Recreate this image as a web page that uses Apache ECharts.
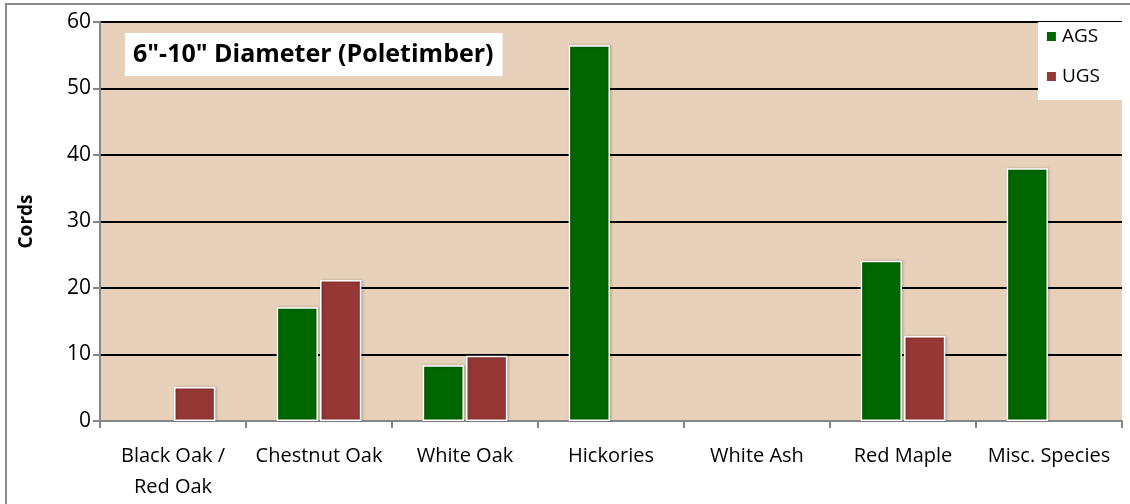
<!DOCTYPE html>
<html>
<head>
<meta charset="utf-8">
<script src="https://cdn.jsdelivr.net/npm/echarts@6/dist/echarts.min.js"></script>
<style>
  html, body { margin: 0; padding: 0; background: #fff; }
  #main { width: 1130px; height: 504px; }
</style>
</head>
<body>
<div id="main"></div>
<script>
  // species along the x axis
  const categories = ['Black Oak /\nRed Oak', 'Chestnut Oak', 'White Oak', 'Hickories', 'White Ash', 'Red Maple', 'Misc. Species'];
  // cords per series
  const agsValues = [0, 17.1, 8.4, 56.5, 0, 24.1, 38.0];
  const ugsValues = [5.1, 21.2, 9.8, 0, 0, 12.8, 0];
  const yTicks = { min: 0, max: 60, interval: 10 };

  const font = '"Open Sans", "Noto Sans", sans-serif';

  let chart = echarts.init(document.getElementById('main'));

  const barStyle = (color) => ({
    color: color,
    borderColor: '#ffffff',
    borderWidth: 1.5,
    shadowColor: 'rgba(0,0,0,0.25)',
    shadowBlur: 3,
    shadowOffsetX: 1,
    shadowOffsetY: 0
  });

  // zero bars are not drawn in the reference, so drop their border
  const toData = (arr) => arr.map(v => v === 0
    ? { value: v, itemStyle: { borderWidth: 0, shadowBlur: 0, opacity: 0 } }
    : v);

  let option = {
    animation: false,
    backgroundColor: '#ffffff',
    graphic: [{
      type: 'rect',
      z: -10,
      shape: { x: 6, y: 4, width: 1140, height: 520 },
      style: { fill: 'none', stroke: '#8c8c8c', lineWidth: 2 }
    }],
    title: {
      text: '6"-10" Diameter (Poletimber)',
      left: 125,
      top: 33,
      backgroundColor: '#ffffff',
      padding: [9, 9, 9, 8],
      textStyle: { fontFamily: font, fontSize: 25, fontWeight: 'bold', color: '#000' }
    },
    legend: {
      orient: 'vertical',
      right: 8,
      top: 22,
      backgroundColor: '#ffffff',
      padding: [5, 22, 14, 7],
      itemGap: 21,
      itemWidth: 11,
      itemHeight: 11,
      icon: 'rect',
      textStyle: { fontFamily: font, fontSize: 19, color: '#000' },
      data: ['AGS', 'UGS']
    },
    grid: {
      left: 100,
      right: 8,
      top: 22,
      bottom: 83,
      show: true,
      backgroundColor: '#e8d1ba',
      borderWidth: 0
    },
    xAxis: {
      type: 'category',
      data: categories,
      axisLine: { lineStyle: { color: '#868686', width: 2 } },
      axisTick: { show: true, length: 7, lineStyle: { color: '#868686', width: 2 } },
      axisLabel: { fontFamily: font, fontSize: 20, color: '#000', margin: 20, lineHeight: 31, interval: 0 }
    },
    yAxis: {
      type: 'value',
      min: yTicks.min,
      max: yTicks.max,
      interval: yTicks.interval,
      name: 'Cords',
      nameLocation: 'middle',
      nameGap: 64,
      nameTextStyle: { fontFamily: font, fontSize: 19, fontWeight: 'bold', color: '#000' },
      axisLine: { show: true, lineStyle: { color: '#868686', width: 2 } },
      axisTick: { show: true, length: 7, lineStyle: { color: '#868686', width: 2 } },
      axisLabel: { fontFamily: font, fontSize: 21, color: '#000', margin: 9 },
      splitLine: { lineStyle: { color: '#000', width: 2 } }
    },
    series: [
      {
        name: 'AGS',
        type: 'bar',
        data: toData(agsValues),
        barGap: '5%',
        barCategoryGap: '42%',
        itemStyle: barStyle('#006600')
      },
      {
        name: 'UGS',
        type: 'bar',
        data: toData(ugsValues),
        barGap: '5%',
        barCategoryGap: '42%',
        itemStyle: barStyle('#953735')
      }
    ]
  };
  chart.setOption(option);
</script>
</body>
</html>
